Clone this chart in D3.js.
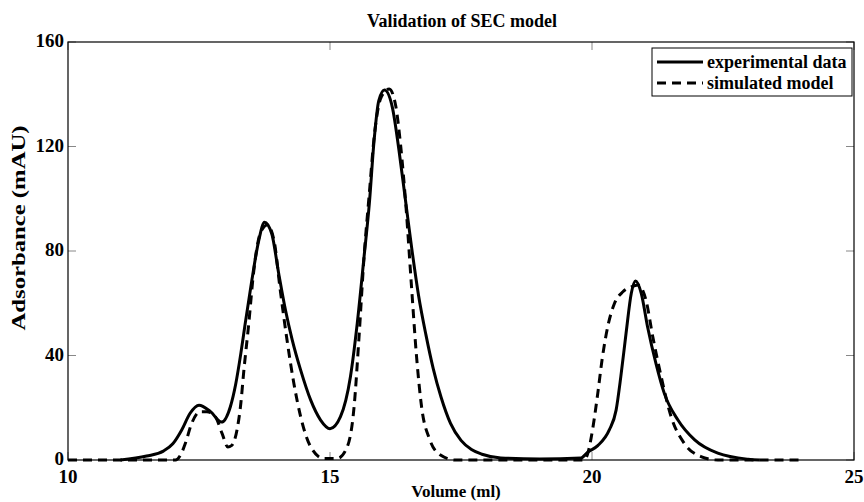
<!DOCTYPE html>
<html>
<head>
<meta charset="utf-8">
<script src="https://cdn.jsdelivr.net/npm/d3@7"></script>
<style>
  body { margin: 0; background: #fff; }
</style>
</head>
<body>
<script>
// experimental data (solid)
const expVolume = [11.0, 11.5, 11.82, 12.0, 12.17, 12.33, 12.5, 12.72, 12.93, 13.1, 13.2, 13.3, 13.38, 13.51, 13.64, 13.75, 13.89, 14.02, 14.15, 14.28, 14.44, 14.63, 14.82, 15.0, 15.2, 15.39, 15.52, 15.65, 15.75, 15.84, 15.93, 16.04, 16.19, 16.32, 16.44, 16.56, 16.69, 16.83, 16.97, 17.12, 17.3, 17.5, 17.7, 17.9, 18.26, 19.0, 19.79, 19.92, 20.11, 20.33, 20.46, 20.55, 20.65, 20.75, 20.83, 20.94, 21.06, 21.22, 21.38, 21.64, 21.96, 22.4, 22.98, 23.2];
const expAbs = [0, 1.5, 3.4, 6.2, 11.5, 17.9, 21, 18.5, 14.5, 20.5, 29, 41, 52, 69, 84, 91, 86.5, 71.5, 57.4, 45.9, 34.4, 23, 15.3, 12, 16.6, 31.9, 52.3, 77.8, 98, 122, 137.5, 141.6, 135, 118, 99.5, 81, 63, 48, 35, 24, 14, 7.5, 4, 2.2, 0.8, 0.4, 0.8, 3, 5.5, 11.5, 19.1, 31.9, 48.5, 63.8, 68.5, 63.8, 51, 37, 25.5, 15.3, 7.7, 2.6, 0.3, 0];

// simulated model (dashed)
const simVolume = [10, 12.05, 12.15, 12.24, 12.36, 12.52, 12.65, 12.81, 12.94, 13.05, 13.12, 13.23, 13.3, 13.35, 13.45, 13.54, 13.67, 13.8, 13.93, 14.05, 14.18, 14.31, 14.44, 14.63, 14.88, 15.14, 15.33, 15.46, 15.55, 15.65, 15.75, 15.85, 15.98, 16.13, 16.25, 16.35, 16.45, 16.55, 16.65, 16.75, 16.9, 17.1, 17.4, 19.85, 19.92, 20.01, 20.11, 20.2, 20.3, 20.43, 20.59, 20.75, 20.88, 21.03, 21.16, 21.32, 21.51, 21.76, 22.08, 22.4, 24];
const simAbs = [0, 0, 2, 6.4, 14, 18.5, 18.5, 16.6, 10.2, 5, 5.5, 12, 22, 33, 52.3, 71.5, 86.8, 90, 84.2, 65.1, 45.9, 29.4, 16.6, 5.1, 0.6, 0.6, 5.1, 20.4, 45.9, 77.8, 102, 125, 139, 142, 136, 120, 97, 68, 40, 20, 8, 2, 0, 0, 2.6, 11.5, 25.5, 39.5, 51, 60, 64.4, 66.3, 67, 61.2, 47.2, 31.9, 16.6, 6.4, 1.3, 0, 0];

const xTicks = [10, 15, 20, 25];
const yTicks = [0, 40, 80, 120, 160];

const width = 864, height = 502;
const margin = {left: 68, right: 10, top: 42, bottom: 42};

const svg = d3.select("body").append("svg")
    .attr("width", width)
    .attr("height", height);

// all text in bold Times-like serif
function label(sel) {
    return sel.style("font-family", '"Liberation Serif"').style("font-weight", "bold").attr("fill", "#000");
}

const x = d3.scaleLinear().domain([10, 25]).range([margin.left, width - margin.right]);
const y = d3.scaleLinear().domain([0, 160]).range([height - margin.bottom, margin.top]);

// inward grey ticks on all four sides
const tickLen = 8;
const tickG = svg.append("g").attr("stroke", "#888").attr("stroke-width", 1);
xTicks.forEach(t => {
    tickG.append("line").attr("x1", x(t)).attr("x2", x(t)).attr("y1", y(0)).attr("y2", y(0) - tickLen);
    tickG.append("line").attr("x1", x(t)).attr("x2", x(t)).attr("y1", y(160)).attr("y2", y(160) + tickLen);
});
yTicks.forEach(t => {
    tickG.append("line").attr("x1", x(10)).attr("x2", x(10) + tickLen).attr("y1", y(t)).attr("y2", y(t));
    tickG.append("line").attr("x1", x(25)).attr("x2", x(25) - tickLen).attr("y1", y(t)).attr("y2", y(t));
});

const line = d3.line()
    .x(d => x(d[0]))
    .y(d => y(d[1]))
    .curve(d3.curveMonotoneX);

svg.append("path")
    .datum(simVolume.map((v, i) => [v, simAbs[i]]))
    .attr("d", line)
    .attr("fill", "none")
    .attr("stroke", "#000")
    .attr("stroke-width", 3)
    .attr("stroke-dasharray", "9,6");

svg.append("path")
    .datum(expVolume.map((v, i) => [v, expAbs[i]]))
    .attr("d", line)
    .attr("fill", "none")
    .attr("stroke", "#000")
    .attr("stroke-width", 3);

// axes box
svg.append("rect")
    .attr("x", x(10)).attr("y", y(160))
    .attr("width", x(25) - x(10)).attr("height", y(0) - y(160))
    .attr("fill", "none").attr("stroke", "#000").attr("stroke-width", 1.2);

// tick labels
svg.selectAll(".xlab").data(xTicks).enter().append("text")
    .attr("x", d => x(d)).attr("y", y(0) + 23)
    .attr("text-anchor", "middle").attr("font-size", 19)
    .text(d => d)
    .call(label);
svg.selectAll(".ylab").data(yTicks).enter().append("text")
    .attr("x", x(10) - 4).attr("y", d => y(d) + 5)
    .attr("text-anchor", "end").attr("font-size", 19)
    .text(d => d)
    .call(label);

// titles
svg.append("text")
    .attr("x", 462).attr("y", 27)
    .attr("text-anchor", "middle").attr("font-size", 18)
    .text("Validation of SEC model")
    .call(label);
svg.append("text")
    .attr("x", 456).attr("y", 497)
    .attr("text-anchor", "middle").attr("font-size", 17)
    .text("Volume (ml)")
    .call(label);
svg.append("text")
    .attr("transform", "translate(25,228) rotate(-90)")
    .attr("text-anchor", "middle").attr("font-size", 18)
    .attr("textLength", 205).attr("lengthAdjust", "spacingAndGlyphs")
    .text("Adsorbance (mAU)")
    .call(label);

// legend
const lg = svg.append("g");
lg.append("rect").attr("x", 652).attr("y", 48).attr("width", 200).attr("height", 48)
    .attr("fill", "#fff").attr("stroke", "#000").attr("stroke-width", 1);
lg.append("line").attr("x1", 657).attr("x2", 703).attr("y1", 62).attr("y2", 62)
    .attr("stroke", "#000").attr("stroke-width", 3);
lg.append("line").attr("x1", 657).attr("x2", 703).attr("y1", 83).attr("y2", 83)
    .attr("stroke", "#000").attr("stroke-width", 3).attr("stroke-dasharray", "9,6");
lg.append("text").attr("x", 707).attr("y", 68).attr("font-size", 18).text("experimental data").call(label);
lg.append("text").attr("x", 707).attr("y", 89).attr("font-size", 18).text("simulated model").call(label);
</script>
</body>
</html>
